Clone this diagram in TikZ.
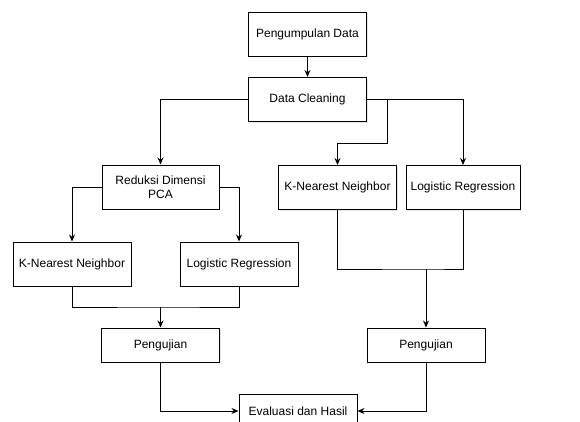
\documentclass[tikz,border=0pt]{standalone}
\usepackage{fontspec}
\setmainfont{Liberation Sans}
\usetikzlibrary{arrows.meta, shadows}

\begin{document}
\begin{tikzpicture}[x=1pt, y=-1pt, line width=1pt,
    every node/.style={font=\fontsize{12}{14}\selectfont},
    box/.style={draw, rectangle, fill=white, align=center, inner sep=2pt,
        minimum width=118pt, minimum height=44pt,
        drop shadow={opacity=0.2, shadow xshift=1pt, shadow yshift=-1pt}},
    lowbox/.style={box, minimum height=34pt},
    arr/.style={-{Stealth[length=7pt, width=6pt]}}]
            \useasboundingbox (0,0) rectangle (580,421);
            \clip (0,0) rectangle (580,421);

            \node[box] at (307.5, 34)    (a) {Pengumpulan Data};
            \node[box] at (307.5, 99.5)  (b) {Data Cleaning};
            \node[box, minimum width=117pt] at (160.5, 187) (c) {Reduksi Dimensi\\PCA};
            \node[box] at (337.5, 187.5) (d) {K-Nearest Neighbor};
            \node[box, minimum width=114pt] at (463, 187.5) (e) {Logistic Regression};
            \node[box] at (72, 264)      (f) {K-Nearest Neighbor};
            \node[box] at (239, 264)     (g) {Logistic Regression};
            \node[lowbox] at (160.5, 345) (h) {Pengujian};
            \node[lowbox] at (426, 345)  (i) {Pengujian};
            \node[lowbox] at (298, 411)  (j) {Evaluasi dan Hasil};

            \coordinate (bd) at (387, 143);
            \coordinate (fg) at (160.5, 307);
            \coordinate (de) at (426, 269);

            \draw [arr] (a) -- (b);
            \draw [arr] (b.west) -| (c.north);
            \draw [arr] (b.east) -| (e.north);
            \draw [arr] (b.east) -| (bd) -| (d.north);
            \draw [arr] (c.west) -| (f.north);
            \draw [arr] (c.east) -| (g.north);
            \draw (f.south) |- (fg) -| (g.south);
            \draw [arr] (fg) -- (h.north);
            \draw (d.south) |- (de) -| (e.south);
            \draw [arr] (de) -- (i.north);
            \draw [arr] (h.south) |- (j.west);
            \draw [arr] (i.south) |- (j.east);
        \end{tikzpicture}
\end{document}
